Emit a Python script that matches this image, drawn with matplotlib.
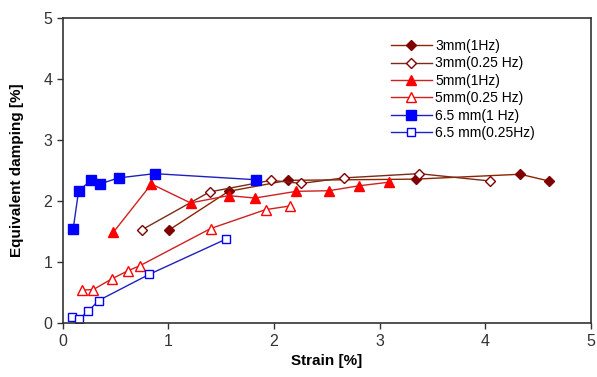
import matplotlib.pyplot as plt
import numpy as np

plt.rcParams['font.family'] = ['Liberation Sans', 'DejaVu Sans']

# strain [%] / equivalent damping [%]
x_3mm_1hz = [1.01, 1.57, 2.13, 3.34, 4.33, 4.60]
y_3mm_1hz = [1.53, 2.16, 2.34, 2.36, 2.44, 2.33]

x_3mm_025hz = [0.75, 1.39, 1.97, 2.26, 2.66, 3.37, 4.04]
y_3mm_025hz = [1.53, 2.15, 2.34, 2.29, 2.38, 2.45, 2.33]

x_5mm_1hz = [0.48, 0.84, 1.21, 1.57, 1.82, 2.21, 2.52, 2.80, 3.09]
y_5mm_1hz = [1.49, 2.28, 1.97, 2.09, 2.05, 2.16, 2.17, 2.25, 2.31]

x_5mm_025hz = [0.18, 0.29, 0.47, 0.62, 0.73, 1.40, 1.92, 2.15]
y_5mm_025hz = [0.54, 0.55, 0.73, 0.86, 0.94, 1.55, 1.86, 1.92]

x_65mm_1hz = [0.10, 0.15, 0.27, 0.35, 0.53, 0.87, 1.83]
y_65mm_1hz = [1.55, 2.16, 2.35, 2.28, 2.38, 2.45, 2.35]

x_65mm_025hz = [0.09, 0.15, 0.24, 0.34, 0.82, 1.55]
y_65mm_025hz = [0.10, 0.06, 0.19, 0.37, 0.80, 1.38]

labels = ["3mm(1Hz)", "3mm(0.25 Hz)", "5mm(1Hz)", "5mm(0.25 Hz)",
          "6.5 mm(1 Hz)", "6.5 mm(0.25Hz)"]

fig = plt.figure(figsize=(5.97, 3.77), dpi=100)
ax = fig.add_axes([0.105, 0.143, 0.885, 0.809])

dred = '#800000'
red = '#FF0000'
blue = '#0000FF'

ax.plot(x_3mm_1hz, y_3mm_1hz, '-', color='#8B2500', lw=1.0,
        marker='D', ms=5.5, mfc=dred, mec=dred, label=labels[0])
ax.plot(x_3mm_025hz, y_3mm_025hz, '-', color='#7A2A1A', lw=1.0,
        marker='D', ms=5.5, mfc='white', mec=dred, mew=1.0, label=labels[1])
ax.plot(x_5mm_1hz, y_5mm_1hz, '-', color='#D02020', lw=1.0,
        marker='^', ms=7, mfc=red, mec=red, label=labels[2])
ax.plot(x_5mm_025hz, y_5mm_025hz, '-', color='#D02020', lw=1.0,
        marker='^', ms=7, mfc='white', mec=red, mew=1.0, label=labels[3])
ax.plot(x_65mm_1hz, y_65mm_1hz, '-', color='#2020C0', lw=1.0,
        marker='s', ms=6.5, mfc=blue, mec=blue, label=labels[4])
ax.plot(x_65mm_025hz, y_65mm_025hz, '-', color='#2020C0', lw=1.0,
        marker='s', ms=6, mfc='white', mec=blue, mew=1.0, label=labels[5])

ax.set_xlim(0, 5)
ax.set_ylim(0, 5)
ax.set_xticks(np.arange(0, 6, 1))
ax.set_yticks(np.arange(0, 6, 1))
ax.tick_params(direction='out', length=4, width=1, labelsize=11.5,
               labelcolor='#333333', colors='#333333')
for s in ax.spines.values():
    s.set_color('#333333')
    s.set_linewidth(1.2)

ax.set_xlabel('Strain [%]', fontsize=11, fontweight='bold', labelpad=4)
ax.set_ylabel('Equivalent damping [%]', fontsize=11, fontweight='bold', labelpad=14)

ax.legend(loc='upper left', bbox_to_anchor=(0.61, 0.95), frameon=False,
          fontsize=10, handlelength=3.0, handletextpad=0.2,
          labelspacing=0.25, borderaxespad=0)

fig.savefig('out.png', dpi=100)
